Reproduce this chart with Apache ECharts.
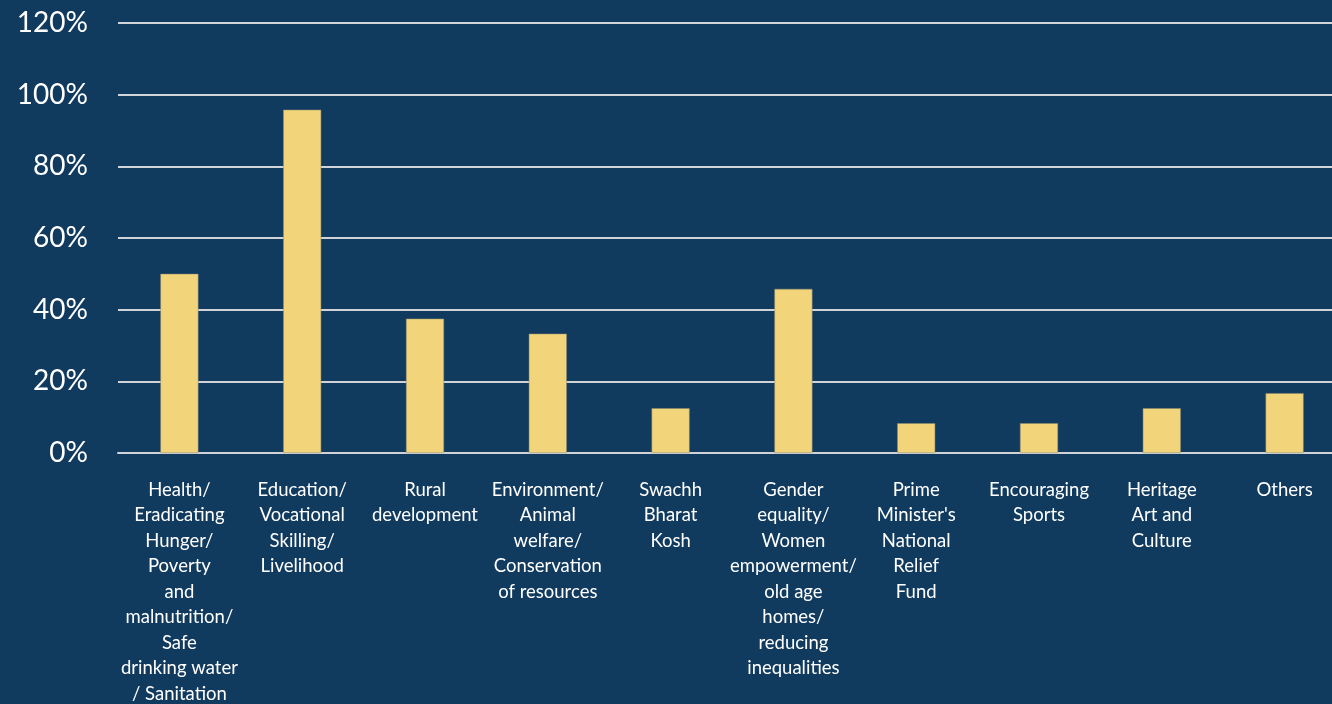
<!DOCTYPE html>
<html>
<head>
<meta charset="utf-8">
<style>
  html, body { margin: 0; padding: 0; background: #113a5f; }
  #chart { width: 1332px; height: 704px; }
</style>
<script src="https://cdn.jsdelivr.net/npm/echarts@6/dist/echarts.min.js"></script>
</head>
<body>
<div id="chart"></div>
<script>
const categories = [
  'Health/\nEradicating\nHunger/\nPoverty\nand\nmalnutrition/\nSafe\ndrinking water\n/ Sanitation',
  'Education/\nVocational\nSkilling/\nLivelihood',
  'Rural\ndevelopment',
  'Environment/\nAnimal\nwelfare/\nConservation\nof resources',
  'Swachh\nBharat\nKosh',
  'Gender\nequality/\nWomen\nempowerment/\nold age\nhomes/\nreducing\ninequalities',
  'Prime\nMinister\'s\nNational\nRelief\nFund',
  'Encouraging\nSports',
  'Heritage\nArt and\nCulture',
  'Others'
]
const shares = [50, 95.8, 37.5, 33.3, 12.5, 45.8, 8.3, 8.3, 12.5, 16.7]

const chart = echarts.init(document.getElementById('chart'))

chart.setOption({
  backgroundColor: '#113a5f',
  animation: false,
  grid: { left: 118, width: 1228, top: 23, height: 430, outerBoundsMode: 'none', containLabel: false },
  xAxis: {
    type: 'category',
    data: categories,
    axisLine: { show: true, lineStyle: { color: '#d0d3d8', width: 2 } },
    axisTick: { show: false },
    axisLabel: {
      interval: 0,
      color: '#ffffff',
      fontFamily: 'Lato',
      fontSize: 18.5,
      lineHeight: 25.5,
      margin: 24,
      align: 'center',
      verticalAlign: 'top'
    }
  },
  yAxis: {
    type: 'value',
    min: 0,
    max: 120,
    interval: 20,
    axisLine: { show: false },
    axisTick: { show: false },
    splitLine: { lineStyle: { color: '#d0d3d8', width: 2 } },
    axisLabel: {
      color: '#ffffff',
      fontFamily: 'Lato',
      fontSize: 28,
      margin: 30,
      formatter: (v) => v + '%'
    }
  },
  series: [
    {
      type: 'bar',
      data: shares,
      barWidth: 38,
      itemStyle: { color: '#f2d47a', borderColor: '#8c8a72', borderWidth: 0.5 }
    }
  ]
})
</script>
</body>
</html>
